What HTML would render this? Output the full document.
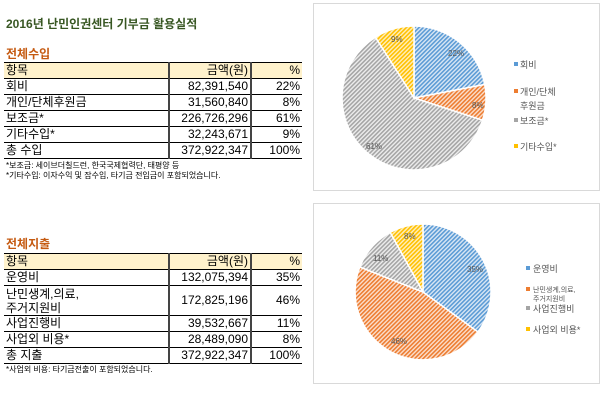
<!DOCTYPE html>
<html><head><meta charset="utf-8"><style>
body{margin:0;width:600px;height:400px;background:#fff;overflow:hidden;font-family:"Liberation Sans","Noto Sans CJK KR",sans-serif;position:relative}
.t{position:absolute;white-space:nowrap}
table{position:absolute;border-collapse:collapse;font-size:12px;color:#000}
td{border-top:1px solid #000;border-bottom:1px solid #000;padding:0 2px;height:15px;line-height:15px}
td.a{width:160px}
td.b{width:76px;text-align:right;border-left:2px solid #444;border-right:2px solid #444}
td.c{width:46px;text-align:right}
tr.h td{background:#fff2cc}
.n{font-size:8px;color:#000;position:absolute;white-space:nowrap;line-height:9px}
</style></head><body>
<div class="t" style="left:6px;top:15px;font-size:12px;font-weight:bold;color:#385723">2016년 난민인권센터 기부금 활용실적</div>
<div class="t" style="left:6px;top:45px;font-size:12px;font-weight:bold;color:#c55a11">전체수입</div>
<table style="left:4px;top:62px">
<tr class="h"><td class="a">항목</td><td class="b">금액(원)</td><td class="c">%</td></tr>
<tr><td class="a">회비</td><td class="b">82,391,540</td><td class="c">22%</td></tr>
<tr><td class="a">개인/단체후원금</td><td class="b">31,560,840</td><td class="c">8%</td></tr>
<tr><td class="a">보조금*</td><td class="b">226,726,296</td><td class="c">61%</td></tr>
<tr><td class="a">기타수입*</td><td class="b">32,243,671</td><td class="c">9%</td></tr>
<tr><td class="a">총 수입</td><td class="b">372,922,347</td><td class="c">100%</td></tr>
</table>
<div class="n" style="left:6px;top:161px">*보조금: 세이브더칠드런, 한국국제협력단, 태평양 등</div>
<div class="n" style="left:6px;top:171px">*기타수입: 이자수익 및 잡수입, 타기금 전입금이 포함되었습니다.</div>

<div class="t" style="left:6px;top:235px;font-size:12px;font-weight:bold;color:#c55a11">전체지출</div>
<table style="left:4px;top:253px">
<tr class="h"><td class="a">항목</td><td class="b">금액(원)</td><td class="c">%</td></tr>
<tr><td class="a">운영비</td><td class="b">132,075,394</td><td class="c">35%</td></tr>
<tr><td class="a" style="height:29px;line-height:14px">난민생계,의료,<br>주거지원비</td><td class="b">172,825,196</td><td class="c">46%</td></tr>
<tr><td class="a">사업진행비</td><td class="b">39,532,667</td><td class="c">11%</td></tr>
<tr><td class="a">사업외 비용*</td><td class="b">28,489,090</td><td class="c">8%</td></tr>
<tr><td class="a">총 지출</td><td class="b">372,922,347</td><td class="c">100%</td></tr>
</table>
<div class="n" style="left:6px;top:365px">*사업외 비용: 타기금전출이 포함되었습니다.</div>

<svg width="600" height="400" style="position:absolute;left:0;top:0" font-family="Liberation Sans, Noto Sans CJK KR, sans-serif">
<defs>
<pattern id="pb" width="3" height="3" patternUnits="userSpaceOnUse" patternTransform="rotate(45)"><rect width="3" height="3" fill="#dbe8f5"/><rect width="1.6" height="3" fill="#5b9bd5"/></pattern>
<pattern id="po" width="3" height="3" patternUnits="userSpaceOnUse" patternTransform="rotate(45)"><rect width="3" height="3" fill="#fbe0cf"/><rect width="1.6" height="3" fill="#ed7d31"/></pattern>
<pattern id="pg" width="3" height="3" patternUnits="userSpaceOnUse" patternTransform="rotate(45)"><rect width="3" height="3" fill="#eeeeee"/><rect width="1.6" height="3" fill="#a5a5a5"/></pattern>
<pattern id="py" width="3" height="3" patternUnits="userSpaceOnUse" patternTransform="rotate(45)"><rect width="3" height="3" fill="#fff0c0"/><rect width="1.6" height="3" fill="#ffc000"/></pattern>
</defs>
<rect x="313.5" y="3.5" width="286" height="187" fill="none" stroke="#d9d9d9"/>
<rect x="313.5" y="203.5" width="286" height="180" fill="none" stroke="#d9d9d9"/>
<g stroke="#fff" stroke-width="1.5">
<path d="M414,98 L414,26 A72,72 0 0 1 484.7,84.5 Z" fill="url(#pb)"/>
<path d="M414,98 L484.7,84.5 A72,72 0 0 1 482.5,120.2 Z" fill="url(#po)"/>
<path d="M414,98 L482.5,120.2 A72,72 0 1 1 375.4,37.2 Z" fill="url(#pg)"/>
<path d="M414,98 L375.4,37.2 A72,72 0 0 1 414,26 Z" fill="url(#py)"/>
<path d="M423,292 L423,224 A68,68 0 0 1 478,332 Z" fill="url(#pb)"/>
<path d="M423,292 L478,332 A68,68 0 0 1 359.8,267 Z" fill="url(#po)"/>
<path d="M423,292 L359.8,267 A68,68 0 0 1 390.2,232.4 Z" fill="url(#pg)"/>
<path d="M423,292 L390.2,232.4 A68,68 0 0 1 423,224 Z" fill="url(#py)"/>
</g>
<g font-size="8" fill="#555">
<text x="448" y="56">22%</text><text x="472" y="108">8%</text><text x="366" y="149">61%</text><text x="391" y="42">9%</text>
<text x="467" y="272">35%</text><text x="391" y="344">46%</text><text x="373" y="261">11%</text><text x="404" y="239">8%</text>
</g>
<g font-size="9" fill="#555">
<rect x="514" y="62" width="4" height="4" fill="#5b9bd5"/><text x="520" y="68">회비</text>
<rect x="514" y="89" width="4" height="4" fill="#ed7d31"/><text x="520" y="95">개인/단체</text><text x="520" y="109">후원금</text>
<rect x="514" y="118" width="4" height="4" fill="#a5a5a5"/><text x="520" y="124">보조금*</text>
<rect x="514" y="144" width="4" height="4" fill="#ffc000"/><text x="520" y="150">기타수입*</text>
<rect x="526" y="266" width="4" height="4" fill="#5b9bd5"/><text x="533" y="272">운영비</text>
<rect x="526" y="287" width="4" height="4" fill="#ed7d31"/><text x="533" y="292" font-size="7">난민생계,의료,</text><text x="533" y="301" font-size="7">주거지원비</text>
<rect x="526" y="306" width="4" height="4" fill="#a5a5a5"/><text x="533" y="312">사업진행비</text>
<rect x="526" y="327" width="4" height="4" fill="#ffc000"/><text x="533" y="333">사업외 비용*</text>
</g>
</svg>
</body></html>
